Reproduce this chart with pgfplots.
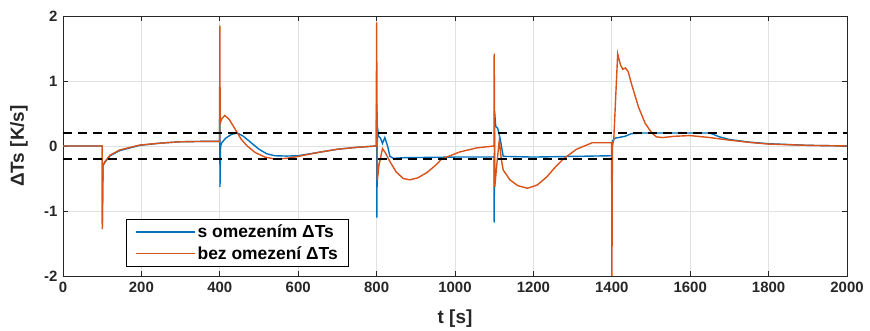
\documentclass[border=0pt]{standalone}
\usepackage{pgfplots}
\pgfplotsset{compat=1.18}
\usepackage{fontspec}
\setmainfont{Liberation Sans}
\definecolor{mblue}{RGB}{0,114,189}
\definecolor{morange}{RGB}{217,83,25}
\definecolor{axgray}{RGB}{38,38,38}
\definecolor{gridgray}{RGB}{225,225,225}
\begin{document}
\begin{tikzpicture}
\useasboundingbox (0,0) rectangle (870bp,331bp);
\begin{axis}[
  at={(63bp,55bp)}, anchor=south west,
  scale only axis, width=784bp, height=260bp,
  xmin=0, xmax=2000, ymin=-2, ymax=2,
  xtick={0,200,...,2000}, ytick={-2,-1,0,1,2},
  grid=major, major grid style={gridgray, line width=0.8bp},
  tick align=inside, major tick length=5bp,
  axis line style={axgray, line width=0.8bp},
  every tick/.style={axgray, line width=0.8bp},
  /pgf/number format/assume math mode=true,
  /pgf/number format/1000 sep={},
  tick label style={font=\fontsize{15}{17}\selectfont\bfseries, text=axgray},
  xticklabel style={yshift=-3bp},
  yticklabel style={xshift=-2bp},
  xlabel={t [s]}, ylabel={ΔTs [K/s]},
  label style={font=\fontsize{19}{21}\selectfont\bfseries, text=axgray},
  xlabel style={at={(rel axis cs:0.5,0)}, anchor=south, yshift=-55bp},
  ylabel style={at={(rel axis cs:0,0.5)}, anchor=center, yshift=44bp},
  legend style={at={(0.08,0.035)}, anchor=south west, draw=black, line width=0.6bp,
    font=\fontsize{17.5}{19}\selectfont\bfseries, row sep=3bp, inner xsep=9bp, inner ysep=4bp},
  legend cell align=left,
  legend image code/.code={\draw[#1, line width=1.6bp] (0bp,0bp) -- (59bp,0bp);},
  clip=true,
]
\addplot[mblue, line width=1.4bp] coordinates {
(0,0) (100,0) (100.2,-1.2) (102,-0.3) (107,-0.25) (120,-0.15) (145,-0.07) (196,0.01) (250,0.045) (300,0.065) (350,0.07) (399.5,0.07)
(400,0.8) (400.5,-0.63) (402,0.0) (405,0.05) (415,0.12) (430,0.18) (445,0.2) (460,0.15) (480,0.05) (500,-0.05) (520,-0.12) (540,-0.15) (570,-0.155) (600,-0.15) (650,-0.1) (700,-0.05) (750,-0.02) (799,0.0)
(800,0.65) (800.7,-1.1) (802,0.3) (805,0.15) (810,0.12) (815,0.04) (821,0.13) (828,0.0) (834,-0.16) (843,-0.19) (870,-0.18) (1000,-0.17) (1099.5,-0.17)
(1100,-1.18) (1101,0.53) (1104,0.3) (1109,0.27) (1115,0.12) (1123,-0.16) (1200,-0.17) (1300,-0.16) (1399.5,-0.15)
(1400,-0.15) (1402,0.08) (1408,0.12) (1434,0.15) (1450,0.19) (1476,0.2) (1650,0.2) (1675,0.14) (1700,0.1) (1750,0.06) (1800,0.035) (1900,0.01) (2000,0.0)
};
\addlegendentry{s omezením ΔTs}
\addplot[morange, line width=1.4bp] coordinates {
(0,0) (100,0) (100.2,-1.28) (102,-0.3) (107,-0.24) (120,-0.14) (145,-0.06) (196,0.015) (250,0.045) (300,0.065) (350,0.07) (399.5,0.07)
(400,1.85) (401,0.35) (405,0.42) (413,0.47) (425,0.4) (440,0.25) (455,0.1) (470,0.0) (490,-0.1) (515,-0.17) (540,-0.2) (570,-0.19) (600,-0.16) (650,-0.1) (700,-0.05) (750,-0.02) (799,0.0)
(800,1.9) (802,-0.52) (806,-0.3) (815,-0.04) (822,-0.1) (834,-0.24) (850,-0.4) (868,-0.5) (885,-0.52) (905,-0.49) (928,-0.41) (950,-0.3) (966,-0.2) (1013,-0.09) (1055,-0.03) (1099.5,0.0)
(1100,1.42) (1101.5,-0.63) (1108,-0.2) (1113,0.09) (1118,-0.2) (1123,-0.37) (1140,-0.52) (1160,-0.61) (1185,-0.65) (1210,-0.6) (1235,-0.47) (1255,-0.33) (1276,-0.2) (1310,-0.05) (1350,0.05) (1399.5,0.05)
(1400.3,-2.1) (1401.5,0.0) (1405,0.1) (1415,1.42) (1422,1.25) (1428,1.18) (1435,1.2) (1442,1.14) (1450,0.96) (1468,0.6) (1485,0.35) (1502,0.2) (1514,0.14) (1530,0.13) (1561,0.15) (1600,0.16) (1650,0.13) (1700,0.09) (1760,0.05) (1800,0.03) (1900,0.01) (2000,0.0)
};
\addlegendentry{bez omezení ΔTs}
\addplot[black, line width=1.4bp, dash pattern=on 9bp off 6bp, forget plot] coordinates {(0,0.2) (2000,0.2)};
\addplot[black, line width=1.4bp, dash pattern=on 9bp off 6bp, forget plot] coordinates {(0,-0.2) (2000,-0.2)};
\end{axis}
\end{tikzpicture}
\end{document}
